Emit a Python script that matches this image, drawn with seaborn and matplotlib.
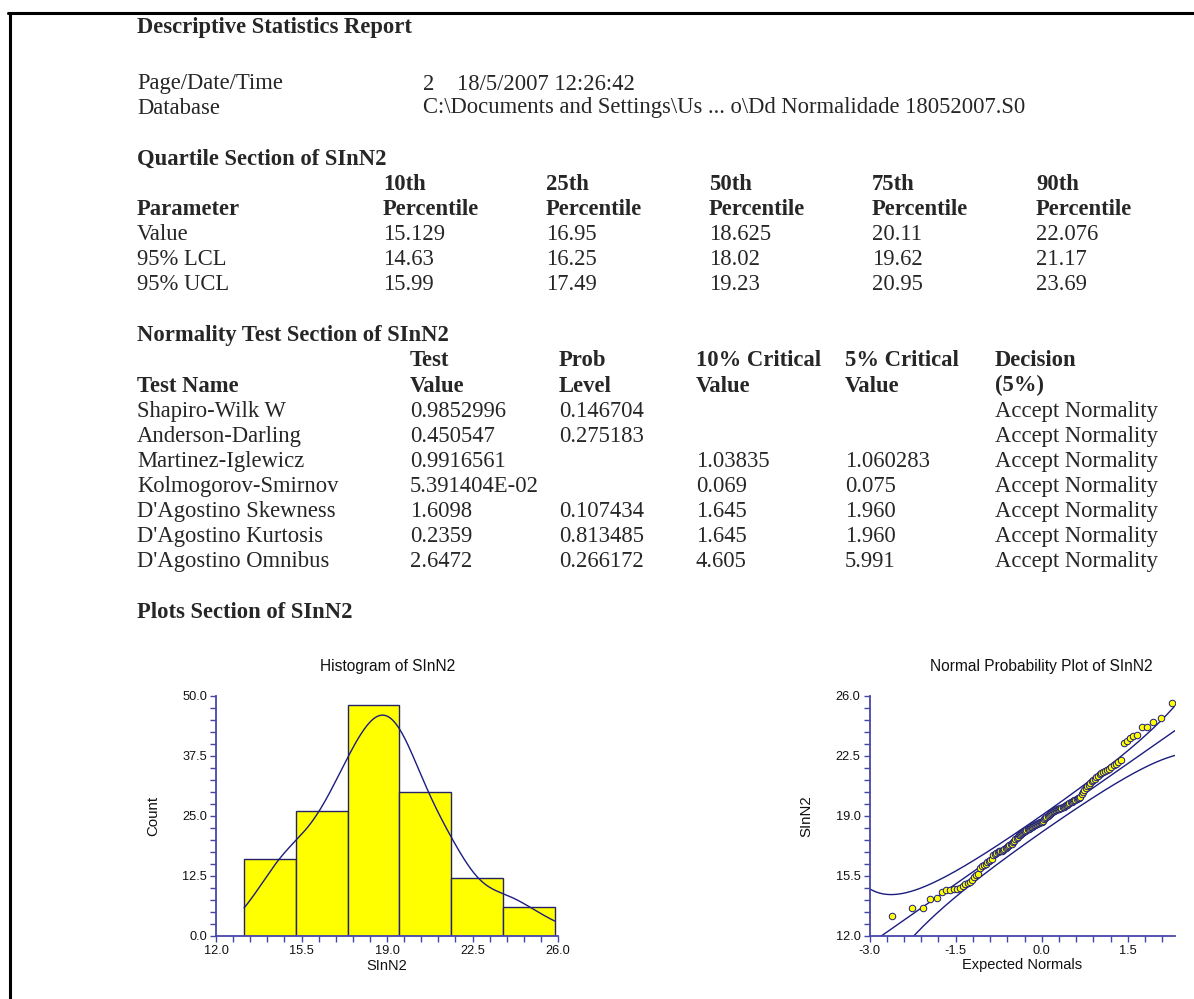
import numpy as np
import pandas as pd
import matplotlib
matplotlib.use("Agg")
import matplotlib.pyplot as plt
import seaborn as sns
from matplotlib.ticker import MultipleLocator, FormatStrFormatter, FixedLocator
from matplotlib.lines import Line2D
from statistics import NormalDist

# ------------------------------------------------------------------ data
report_title = "Descriptive Statistics Report"
page_label = "Page/Date/Time"
page_no = "2"
page_datetime = "18/5/2007 12:26:42"
database_label = "Database"
database_path = "C:\\Documents and Settings\\Us ... o\\Dd Normalidade 18052007.S0"
variable = "SInN2"

quartile_heads = ["10th", "25th", "50th", "75th", "90th"]
quartile_value = ["15.129", "16.95", "18.625", "20.11", "22.076"]
quartile_lcl = ["14.63", "16.25", "18.02", "19.62", "21.17"]
quartile_ucl = ["15.99", "17.49", "19.23", "20.95", "23.69"]

test_names = ["Shapiro-Wilk W", "Anderson-Darling", "Martinez-Iglewicz",
              "Kolmogorov-Smirnov", "D'Agostino Skewness",
              "D'Agostino Kurtosis", "D'Agostino Omnibus"]
test_values = ["0.9852996", "0.450547", "0.9916561", "5.391404E-02",
               "1.6098", "0.2359", "2.6472"]
prob_levels = ["0.146704", "0.275183", "", "", "0.107434", "0.813485", "0.266172"]
crit10 = ["", "", "1.03835", "0.069", "1.645", "1.645", "4.605"]
crit5 = ["", "", "1.060283", "0.075", "1.960", "1.960", "5.991"]
decisions = ["Accept Normality"] * 7

# axis tick values of both charts
sinn2_ticks = [12.0, 15.5, 19.0, 22.5, 26.0]
count_ticks = [0.0, 12.5, 25.0, 37.5, 50.0]
normal_ticks = [-3.0, -1.5, 0.0, 1.5]

sinn2 = [
    13.15, 13.60, 13.63, 14.15, 14.18, 14.53, 14.66, 14.68, 14.70, 14.72,
    14.80, 14.88, 15.00, 15.08, 15.16, 15.24,
    15.45, 15.52, 15.58, 15.95, 16.05, 16.12, 16.20, 16.28, 16.34, 16.40,
    16.45, 16.70, 16.78, 16.84, 16.88, 16.92, 16.94, 16.96, 16.98, 17.05,
    17.12, 17.18, 17.24, 17.29, 17.33, 17.37,
    17.45, 17.55, 17.62, 17.70, 17.78, 17.85, 17.90, 17.95,
    18.00, 18.04, 18.08, 18.12, 18.16, 18.20, 18.24, 18.28, 18.32, 18.36,
    18.40, 18.44, 18.48, 18.51, 18.54, 18.57, 18.59, 18.61, 18.62, 18.63,
    18.70, 18.78, 18.85, 18.92, 18.98, 19.04, 19.10, 19.16, 19.22, 19.26,
    19.30, 19.33, 19.36, 19.38, 19.40, 19.42, 19.44, 19.46, 19.48, 19.50,
    19.55, 19.60, 19.65, 19.70, 19.75, 19.78, 19.82, 19.86, 19.90, 19.94,
    19.98, 20.02, 20.06, 20.11,
    20.25, 20.38, 20.50, 20.62, 20.72, 20.80,
    20.90, 21.00, 21.08, 21.16, 21.26, 21.34, 21.42, 21.48, 21.54, 21.60,
    21.68, 21.75, 21.85, 21.95, 22.02, 22.12, 22.26,
    23.22, 23.38, 23.55, 23.67, 23.70,
    24.16, 24.17, 24.45, 24.68, 25.59, 25.87,
]

# ------------------------------------------------------------------ styling
W, H = 1194, 999
NAVY = "#1c1c80"
AXC = "#4646a8"
SERIF = ["Liberation Serif", "DejaVu Serif"]
SANS = ["Liberation Sans", "DejaVu Sans"]
FS = 16.3

sns.set_style("white")
plt.rcParams["font.family"] = SANS

fig = plt.figure(figsize=(W / 100, H / 100), dpi=100)


def put(x, y, s, bold=False, **kw):
    fig.text(x / W, 1 - y / H, s, ha="left", va="baseline",
             family=SERIF, fontsize=FS,
             fontweight="bold" if bold else "normal", **kw)


# page frame (top and left rules)
fig.add_artist(Line2D([8 / W, 1.0], [1 - 12.5 / H, 1 - 12.5 / H],
                      transform=fig.transFigure, color="black", lw=2.2))
fig.add_artist(Line2D([9.5 / W, 9.5 / W], [1 - 12.5 / H, 0.0],
                      transform=fig.transFigure, color="black", lw=2.2))

# header
put(137, 33.5, report_title, bold=True)
put(137, 89.5, page_label)
put(423, 89.5, page_no)
put(457, 89.5, page_datetime)
put(137, 113.5, database_label)
put(423, 113.5, database_path)

# quartile section
put(137, 165, f"Quartile Section of {variable}", bold=True)
qx = [383, 546, 709, 872, 1036]
put(137, 215, "Parameter", bold=True)
for x, h, v, lo, hi in zip(qx, quartile_heads, quartile_value, quartile_lcl, quartile_ucl):
    put(x, 190, h, bold=True)
    put(x, 215, "Percentile", bold=True)
    put(x, 240, v)
    put(x, 265, lo)
    put(x, 289.5, hi)
put(137, 240, "Value")
put(137, 265, "95% LCL")
put(137, 289.5, "95% UCL")

# normality section
put(137, 341, f"Normality Test Section of {variable}", bold=True)
cx = [137, 410, 559, 696, 845, 995]
heads1 = ["", "Test", "Prob", "10% Critical", "5% Critical", "Decision"]
heads2 = ["Test Name", "Value", "Level", "Value", "Value", "(5%)"]
for x, a, b in zip(cx, heads1, heads2):
    if a:
        put(x, 366.5, a, bold=True)
    put(x, 391.5, b, bold=True)
for i, row in enumerate(zip(test_names, test_values, prob_levels, crit10, crit5, decisions)):
    y = 416.7 + 25 * i
    for x, s in zip(cx, row):
        if s:
            put(x, y, s)

put(137, 618, f"Plots Section of {variable}", bold=True)

# ------------------------------------------------------------------ histogram
vals = pd.Series(sinn2, name=variable)

ax1 = fig.add_axes([216 / W, 1 - 935.7 / H, (558 - 216) / W, 240 / H])
sns.histplot(x=vals, bins=6, stat="count", kde=True,
             kde_kws={"cut": 0, "bw_adjust": 1.0},
             color="#ffff00", alpha=1.0, edgecolor="#23236a", linewidth=1.0,
             ax=ax1)
for ln in ax1.lines:
    ln.set_color(NAVY)
    ln.set_linewidth(1.0)
ax1.set_xlim(sinn2_ticks[0], sinn2_ticks[-1])
ax1.set_ylim(count_ticks[0], count_ticks[-1])
ax1.xaxis.set_major_locator(FixedLocator(sinn2_ticks))
ax1.xaxis.set_minor_locator(MultipleLocator(0.7, offset=sinn2_ticks[0]))
ax1.yaxis.set_major_locator(FixedLocator(count_ticks))
ax1.yaxis.set_minor_locator(MultipleLocator(2.5))
ax1.set_xlabel("")
ax1.set_ylabel("")

# ------------------------------------------------------------------ normal probability plot
n = len(sinn2)
nd = NormalDist()
ranks = np.arange(1, n + 1)
expected = np.array([nd.inv_cdf((r - 0.375) / (n + 0.25)) for r in ranks])
qq = pd.DataFrame({"Expected Normals": expected, variable: np.sort(vals.values)})

ax2 = fig.add_axes([869.5 / W, 1 - 935.7 / H, (1175 - 869.5) / W, 240 / H])
sns.scatterplot(data=qq, x="Expected Normals", y=variable, ax=ax2,
                s=22, color="#ffff00", edgecolor=NAVY, linewidth=0.7, zorder=3)

# reference line through the quartiles and its confidence bands
q25, q75 = float(quartile_value[1]), float(quartile_value[3])
z75 = nd.inv_cdf(0.75)
slope = (q75 - q25) / (2 * z75)
center = (q25 + q75) / 2
zg = np.linspace(-3.0, 2.4, 300)
pg = np.array([nd.cdf(z) for z in zg])
dens = np.array([nd.pdf(z) for z in zg])
half = 1.96 * slope * np.sqrt(pg * (1 - pg) / n) / dens
line = center + slope * zg
for yy in (line, line + half, line - half):
    ax2.plot(zg, yy, color=NAVY, lw=1.0, zorder=2)

ax2.set_xlim(normal_ticks[0], 2.32)
ax2.set_ylim(sinn2_ticks[0], sinn2_ticks[-1])
ax2.xaxis.set_major_locator(FixedLocator(normal_ticks))
ax2.xaxis.set_minor_locator(MultipleLocator(0.3))
ax2.yaxis.set_major_locator(FixedLocator(sinn2_ticks))
ax2.yaxis.set_minor_locator(MultipleLocator(0.7, offset=sinn2_ticks[0]))
ax2.set_xlabel("")
ax2.set_ylabel("")

for ax in (ax1, ax2):
    ax.xaxis.set_major_formatter(FormatStrFormatter("%.1f"))
    ax.yaxis.set_major_formatter(FormatStrFormatter("%.1f"))
    for side in ("top", "right"):
        ax.spines[side].set_visible(False)
    for side in ("left", "bottom"):
        ax.spines[side].set_color(AXC)
        ax.spines[side].set_linewidth(1.3)
    ax.tick_params(which="both", direction="out", color=AXC, width=1.0,
                   labelsize=9.2, labelcolor="#111111", pad=2)
    ax.tick_params(which="major", length=4.5)
    ax.tick_params(which="minor", length=4.0)
    ax.tick_params(axis="x", which="both", bottom=True)
    ax.tick_params(axis="y", which="both", left=True)
    ax.set_facecolor("white")
    ax.patch.set_alpha(0)

# chart titles and axis labels
def ctext(x, y, s, size, rot=0):
    fig.text(x / W, 1 - y / H, s, ha="center", va="center", rotation=rot,
             family=SANS, fontsize=size, color="#111111")

ctext(388, 666, f"Histogram of {variable}", 11.2)
ctext(387, 965.5, variable, 10.5)
ctext(153, 815.7, "Count", 10.8, rot=90)
ctext(1041, 666, f"Normal Probability Plot of {variable}", 11.2)
ctext(1022, 965.5, "Expected Normals", 10.5)
ctext(806.5, 815.7, variable, 10.8, rot=90)

fig.savefig("out.png", dpi=100, facecolor="white")
